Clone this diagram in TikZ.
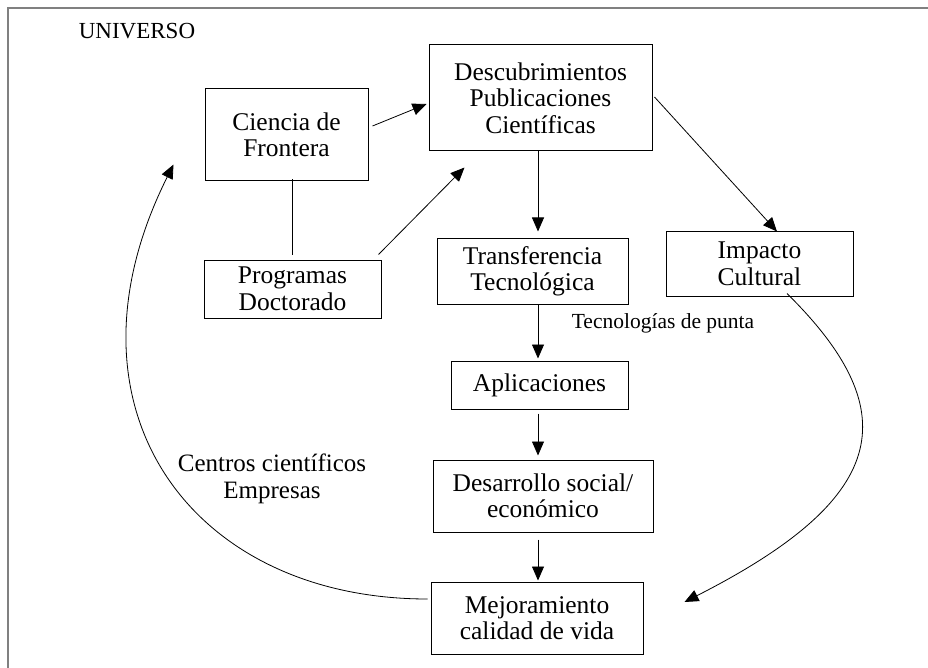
\documentclass[tikz,border=0pt]{standalone}
\usepackage{fontspec}
\setmainfont{Liberation Serif}
\usetikzlibrary{arrows.meta,calc}
\begin{document}
\begin{tikzpicture}[x=1pt,y=-1pt,
  box/.style={draw=black,line width=1pt,inner sep=0pt,align=center,font=\fontsize{25.5}{26.5}\selectfont},
  conn/.style={line width=0.8pt},
  arr/.style={conn,-{Triangle[length=14pt,width=12pt]}},
  lbl/.style={inner sep=0pt,align=center},
  frame/.style={draw=black!50,line width=2pt}]
\useasboundingbox (0,0) rectangle (928,668);
\draw[frame] (8,668) -- (8,8) -- (928,8);

\node[box,minimum width=163pt,minimum height=92pt] (cf) at (286.5,135) {Ciencia de\\Frontera};
\node[box,minimum width=177pt,minimum height=58pt] (prog) at (292.5,289) {Programas\\Doctorado};
\node[box,minimum width=223pt,minimum height=106pt] (desc) at (540.5,98) {Descubrimientos\\Publicaciones\\Científicas};
\node[box,minimum width=191pt,minimum height=65pt] (tt) at (532.5,271.5) {Transferencia\\Tecnológica};
\node[box,minimum width=187pt,minimum height=64pt] (imp) at (759.5,264) {Impacto\\Cultural};
\node[box,minimum width=177pt,minimum height=48pt] (apl) at (539.5,385) {Aplicaciones};
\node[box,minimum width=220pt,minimum height=72pt] (des) at (543,496) {Desarrollo social/\\económico};
\node[box,minimum width=212pt,minimum height=72pt] (mej) at (537,618) {Mejoramiento\\calidad de vida};

\node[lbl,font=\fontsize{23}{26}\selectfont,anchor=base] (univ) at (137,39) {UNIVERSO};
\node[lbl,font=\fontsize{21.5}{24}\selectfont,anchor=base] (tec) at (663,328) {Tecnologías de punta};
\node[lbl,font=\fontsize{25}{27}\selectfont] (cen) at (272,479) {Centros científicos\\Empresas};

\draw[arr] ($(cf.east)+(4,-9)$) -- ($(desc.west)+(-2,6)$);
\draw[conn] ($(cf.south)+(5.5,-2)$) -- ($(prog.north)+(-0.5,-5)$);
\draw[arr] ($(prog.north east)+(-3,-5)$) -- ($(desc.south west)+(36,16)$);
\draw[arr] ($(desc.south)+(-2.5,0)$) -- ($(tt.north)+(5.5,-7)$);
\draw[arr] ($(desc.east)+(2,-1)$) -- ($(imp.north)+(17.5,0)$);
\draw[arr] ($(tt.south)+(5.5,0)$) -- ($(apl.north)+(-1.5,-2)$);
\draw[arr] ($(apl.south)+(-1.5,4)$) -- ($(des.north)+(-5,-4)$);
\draw[arr] ($(des.south)+(-5,7)$) -- ($(mej.north)+(1,-1)$);

\draw[arr] ($(imp.south)+(27.5,-3)$) .. controls (910,415) and (885,500) .. ($(mej.east)+(41,-16)$);
\draw[arr] ($(mej.west)+(-3,-19)$) .. controls (190,599) and (52,407) .. ($(cf.south west)+(-31,-17)$);
\end{tikzpicture}
\end{document}
